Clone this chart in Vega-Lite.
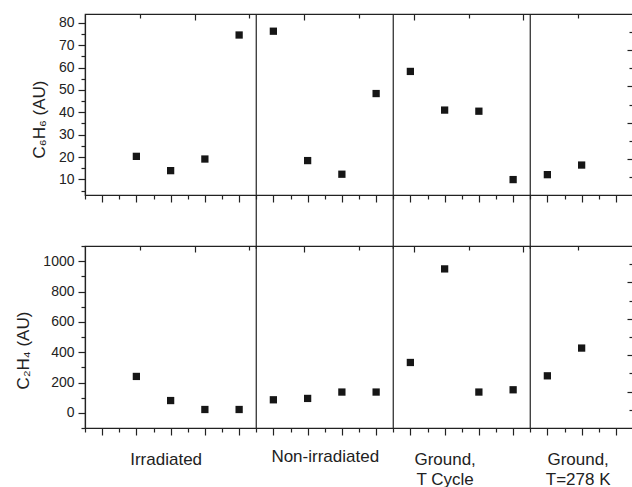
{
  "$schema": "https://vega.github.io/schema/vega-lite/v6.json",
  "autosize": {"type": "pad"},
  "padding": {"left": 14, "top": 10, "right": 0, "bottom": 0},
  "background": "white",
  "spacing": 51,
  "bounds": "flush",
  "config": {
    "font": "Liberation Sans",
    "view": {"stroke": "#222", "strokeWidth": 1.2},
    "axis": {
      "grid": false,
      "domainColor": "#222",
      "domainWidth": 1.2,
      "tickColor": "#222",
      "tickWidth": 1.2,
      "labelColor": "#222",
      "titleColor": "#222",
      "labelFont": "Liberation Sans",
      "titleFont": "Liberation Sans",
      "titleFontWeight": "normal",
      "labelFontSize": 14,
      "titleFontSize": 17,
      "labelPadding": 4,
      "labelOverlap": false,
      "tickCount": 100
    }
  },
  "datasets": {
    "c6h6": [
      {"x": 1, "v": 20.3}, {"x": 2, "v": 13.9}, {"x": 3, "v": 19.1}, {"x": 4, "v": 74.6},
      {"x": 5, "v": 76.3}, {"x": 6, "v": 18.4}, {"x": 7, "v": 12.3}, {"x": 8, "v": 48.4},
      {"x": 9, "v": 58.3}, {"x": 10, "v": 41.0}, {"x": 11, "v": 40.5}, {"x": 12, "v": 9.9},
      {"x": 13, "v": 12.1}, {"x": 14, "v": 16.4}
    ],
    "c2h4": [
      {"x": 1, "v": 240}, {"x": 2, "v": 81}, {"x": 3, "v": 22}, {"x": 4, "v": 22},
      {"x": 5, "v": 86}, {"x": 6, "v": 95}, {"x": 7, "v": 137}, {"x": 8, "v": 137},
      {"x": 9, "v": 332}, {"x": 10, "v": 949}, {"x": 11, "v": 137}, {"x": 12, "v": 152},
      {"x": 13, "v": 244}, {"x": 14, "v": 427}
    ],
    "sep": [{"x": 4.5}, {"x": 8.5}, {"x": 12.5}],
    "frame": [{"s": 0}, {"s": 10}]
  },
  "vconcat": [
    {
      "width": 548,
      "height": 181,
      "layer": [
        {
          "layer": [
            {
              "data": {"name": "c6h6"},
              "mark": {"type": "point", "shape": "square", "filled": true, "size": 53, "color": "#161616", "opacity": 1},
              "encoding": {
                "x": {
                  "field": "x", "type": "quantitative",
                  "scale": {"domain": [-0.5, 15.5], "nice": false, "zero": false},
                  "axis": {
                    "values": [-0.5,0,0.5,1,1.5,2,2.5,3,3.5,4,4.5,5,5.5,6,6.5,7,7.5,8,8.5,9,9.5,10,10.5,11,11.5,12,12.5,13,13.5,14,14.5,15,15.5],
                    "tickCount": 100,
                    "labels": false, "title": null,
                    "tickSize": {"condition": {"test": "datum.value % 1 === 0", "value": 7}, "value": 4}
                  }
                },
                "y": {
                  "field": "v", "type": "quantitative",
                  "scale": {"domain": [3, 84], "nice": false, "zero": false},
                  "axis": {
                    "values": [5,10,15,20,25,30,35,40,45,50,55,60,65,70,75,80],
                    "tickCount": 100,
                    "format": "d",
                    "labelExpr": "datum.value % 10 === 0 ? datum.label : ''",
                    "labelOverlap": false,
                    "title": "C₆H₆ (AU)",
                    "titlePadding": 10,
                    "titleY": 105,
                    "tickSize": {"condition": {"test": "datum.value % 10 === 0", "value": 7}, "value": 4}
                  }
                }
              }
            },
            {
              "data": {"name": "sep"},
              "mark": {"type": "rule", "color": "#222", "strokeWidth": 1.2, "clip": false},
              "encoding": {
                "x": {"field": "x", "type": "quantitative"},
                "y": {"datum": 84, "type": "quantitative"},
                "y2": {"datum": -21}
              }
            }
          ]
        },
        {
          "data": {"name": "frame"},
          "mark": {"type": "point", "opacity": 0},
          "encoding": {
            "x": {
              "field": "s", "type": "quantitative",
              "scale": {"domain": [0, 10], "nice": false, "zero": false},
              "axis": {"orient": "top", "values": [1,2,3,4,5,6,7,8,9], "tickCount": 100, "labels": false, "title": null, "domain": false,
                       "tickSize": {"condition": {"test": "datum.value % 2 === 0", "value": -6}, "value": -4}}
            },
            "y": {
              "field": "s", "type": "quantitative",
              "scale": {"domain": [0, 10], "nice": false, "zero": false},
              "axis": {"orient": "right", "values": [1,2,3,4,5,6,7,8,9], "tickCount": 100, "labels": false, "title": null, "domain": false,
                       "tickSize": {"condition": {"test": "datum.value % 2 === 0", "value": -6}, "value": -4}}
            }
          }
        }
      ],
      "resolve": {"scale": {"x": "independent", "y": "independent"}}
    },
    {
      "width": 548,
      "height": 182,
      "layer": [
        {
          "layer": [
            {
              "data": {"name": "c2h4"},
              "mark": {"type": "point", "shape": "square", "filled": true, "size": 53, "color": "#161616", "opacity": 1},
              "encoding": {
                "x": {
                  "field": "x", "type": "quantitative",
                  "scale": {"domain": [-0.5, 15.5], "nice": false, "zero": false},
                  "axis": {
                    "values": [-0.5,0,0.5,1,1.5,2,2.5,3,3.5,4,4.5,5,5.5,6,6.5,7,7.5,8,8.5,9,9.5,10,10.5,11,11.5,12,12.5,13,13.5,14,14.5,15,15.5],
                    "tickCount": 100,
                    "labelExpr": "datum.value === 2 ? 'Irradiated' : datum.value === 6.5 ? 'Non-irradiated' : datum.value === 10 ? ['Ground,', 'T Cycle'] : datum.value === 14 ? ['Ground,', 'T=278 K'] : ''",
                    "labelFontSize": 17,
                    "labelLineHeight": 20,
                    "labelPadding": 16,
                    "labelOverlap": false,
                    "labelFlush": false,
                    "labelBound": false,
                    "labelAlign": "center",
                    "labelOffset": {"condition": [{"test": "datum.value === 14", "value": -4}, {"test": "datum.value === 2", "value": -5}], "value": 0},
                    "title": null,
                    "tickSize": {"condition": {"test": "datum.value % 1 === 0", "value": 7}, "value": 4}
                  }
                },
                "y": {
                  "field": "v", "type": "quantitative",
                  "scale": {"domain": [-100, 1100], "nice": false, "zero": false},
                  "axis": {
                    "values": [-100,0,100,200,300,400,500,600,700,800,900,1000,1100],
                    "tickCount": 100,
                    "format": "d",
                    "labelExpr": "datum.value % 200 === 0 && datum.value >= 0 && datum.value <= 1000 ? datum.label : ''",
                    "labelOverlap": false,
                    "title": "C₂H₄ (AU)",
                    "titlePadding": 10,
                    "titleY": 104,
                    "tickSize": {"condition": {"test": "datum.value % 200 === 0", "value": 7}, "value": 4}
                  }
                }
              }
            },
            {
              "data": {"name": "sep"},
              "mark": {"type": "rule", "color": "#222", "strokeWidth": 1.2},
              "encoding": {
                "x": {"field": "x", "type": "quantitative"}
              }
            }
          ]
        },
        {
          "data": {"name": "frame"},
          "mark": {"type": "point", "opacity": 0},
          "encoding": {
            "x": {
              "field": "s", "type": "quantitative",
              "scale": {"domain": [0, 10], "nice": false, "zero": false},
              "axis": {"orient": "top", "values": [1,2,3,4,5,6,7,8,9], "tickCount": 100, "labels": false, "title": null, "domain": false,
                       "tickSize": {"condition": {"test": "datum.value % 2 === 0", "value": -6}, "value": -4}}
            },
            "y": {
              "field": "s", "type": "quantitative",
              "scale": {"domain": [0, 10], "nice": false, "zero": false},
              "axis": {"orient": "right", "values": [1,2,3,4,5,6,7,8,9], "tickCount": 100, "labels": false, "title": null, "domain": false,
                       "tickSize": {"condition": {"test": "datum.value % 2 === 0", "value": -6}, "value": -4}}
            }
          }
        }
      ],
      "resolve": {"scale": {"x": "independent", "y": "independent"}}
    }
  ]
}
